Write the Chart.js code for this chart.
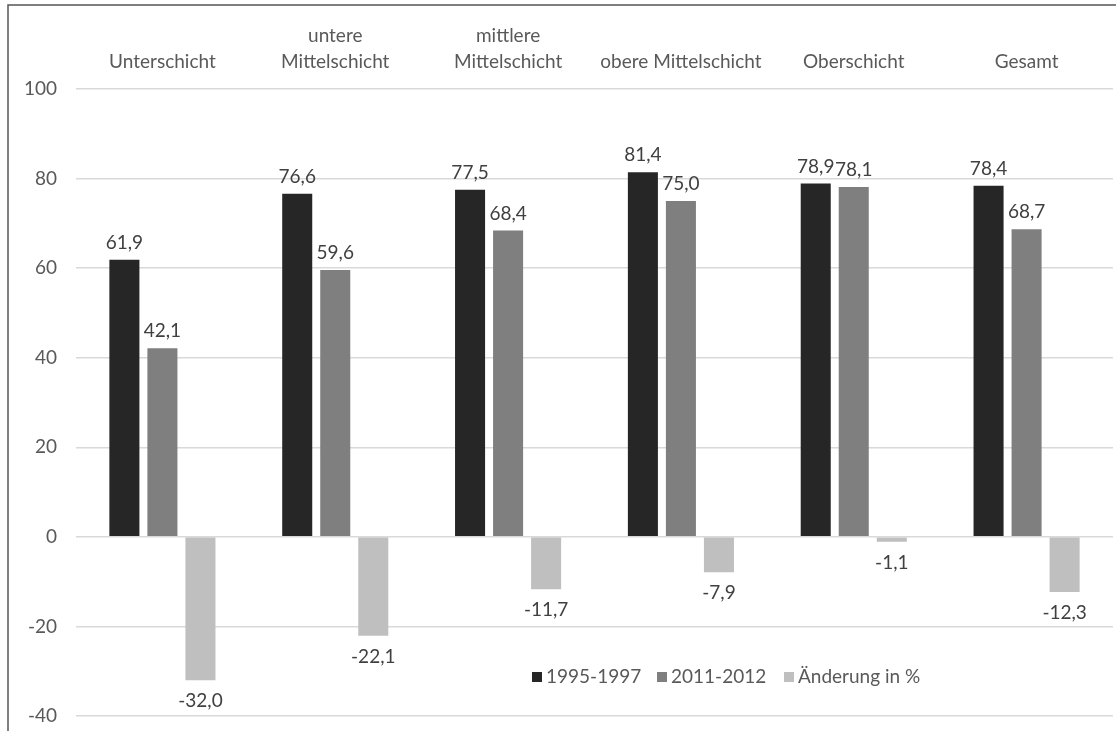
<!DOCTYPE html>
<html>
<head>
<meta charset="utf-8">
<script src="https://cdn.jsdelivr.net/npm/chart.js@4.4.1/dist/chart.umd.min.js"></script>
<style>
  html, body { margin: 0; padding: 0; background: #fff; }
  #wrap { position: relative; width: 1116px; height: 731px; }
</style>
</head>
<body>
<div id="wrap"><canvas id="c" width="1116" height="731"></canvas></div>
<script>
const categories = ['Unterschicht', ['untere', 'Mittelschicht'], ['mittlere', 'Mittelschicht'], 'obere Mittelschicht', 'Oberschicht', 'Gesamt'];
const seriesNames = ['1995-1997', '2011-2012', 'Änderung in %'];
const values1995 = [61.9, 76.6, 77.5, 81.4, 78.9, 78.4];
const values2011 = [42.1, 59.6, 68.4, 75.0, 78.1, 68.7];
const changePct = [-32.0, -22.1, -11.7, -7.9, -1.1, -12.3];
const yTicks = [-40, -20, 0, 20, 40, 60, 80, 100];
const colors = ['#262626', '#7f7f7f', '#bfbfbf'];

const FONT = 'Lato, "Open Sans", sans-serif';

const frame = {
  id: 'frame',
  afterDraw(chart) {
    const ctx = chart.ctx;
    ctx.save();
    ctx.strokeStyle = '#555555';
    ctx.lineWidth = 1.5;
    ctx.beginPath();
    ctx.moveTo(8, 731);
    ctx.lineTo(8, 5);
    ctx.lineTo(1116, 5);
    ctx.stroke();
    ctx.restore();
  }
};

const valueLabels = {
  id: 'valueLabels',
  afterDatasetsDraw(chart) {
    const ctx = chart.ctx;
    ctx.save();
    ctx.font = '19px ' + FONT;
    ctx.fillStyle = '#404040';
    ctx.textAlign = 'center';
    ctx.textBaseline = 'middle';
    chart.data.datasets.forEach((ds, i) => {
      const meta = chart.getDatasetMeta(i);
      meta.data.forEach((bar, j) => {
        const v = ds.data[j];
        const txt = v.toFixed(1).replace('.', ',');
        const y = v >= 0 ? bar.y - 17 : bar.y + 21;
        ctx.fillText(txt, bar.x, y);
      });
    });
    ctx.restore();
  }
};

const legendBoxX = [532, 657, 784];
const customLegend = {
  id: 'customLegend',
  afterDraw(chart) {
    const ctx = chart.ctx;
    ctx.save();
    ctx.font = '19px ' + FONT;
    ctx.textBaseline = 'middle';
    const y = 677;
    chart.data.datasets.forEach((ds, i) => {
      const x = legendBoxX[i];
      ctx.fillStyle = ds.backgroundColor;
      ctx.fillRect(x, y - 5, 10, 10);
      ctx.fillStyle = '#595959';
      ctx.fillText(ds.label, x + 14, y);
    });
    ctx.restore();
  }
};

new Chart(document.getElementById('c'), {
  type: 'bar',
  data: {
    labels: categories,
    datasets: [
      { label: seriesNames[0], data: values1995, backgroundColor: colors[0] },
      { label: seriesNames[1], data: values2011, backgroundColor: colors[1] },
      { label: seriesNames[2], data: changePct, backgroundColor: colors[2] }
    ]
  },
  options: {
    responsive: false,
    animation: false,
    devicePixelRatio: 1,
    layout: { padding: { left: 0, top: 0, right: 3, bottom: 15 } },
    datasets: { bar: { categoryPercentage: 0.66, barPercentage: 0.79 } },
    plugins: {
      legend: { display: false },
      tooltip: { enabled: false }
    },
    scales: {
      x: {
        position: 'top',
        grid: { display: false, drawTicks: false },
        border: { display: false },
        ticks: {
          color: '#595959',
          font: { family: FONT, size: 19, lineHeight: 1.37 },
          padding: 14,
          maxRotation: 0,
          autoSkip: false
        },
        afterFit(s) { s.height = 89; s.paddingLeft = 0; s.paddingRight = 0; }
      },
      y: {
        min: -40,
        max: 100,
        afterBuildTicks(s) { s.ticks = yTicks.map(v => ({ value: v })); },
        grid: { color: '#d9d9d9', lineWidth: 1.5, drawTicks: false },
        border: { display: false },
        ticks: {
          color: '#595959',
          font: { family: FONT, size: 19 },
          padding: 19
        },
        afterFit(s) { s.width = 76; s.paddingTop = 0; s.paddingBottom = 0; }
      }
    }
  },
  plugins: [frame, valueLabels, customLegend]
});
</script>
</body>
</html>
